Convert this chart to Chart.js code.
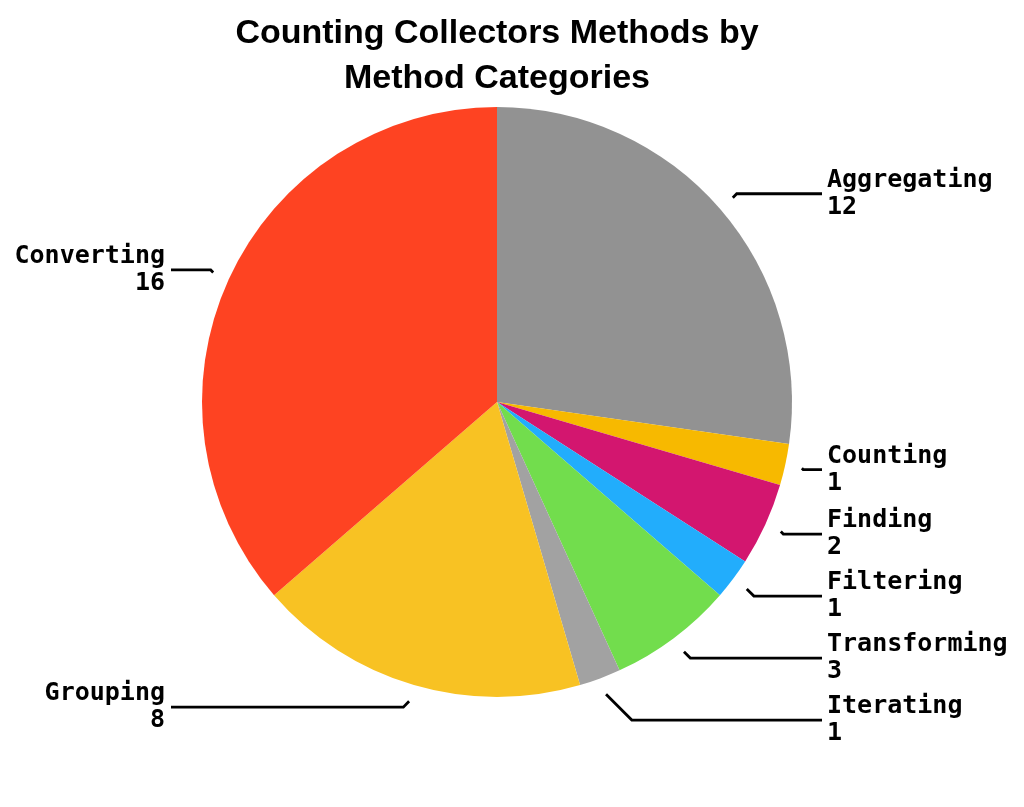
<!DOCTYPE html>
<html>
<head>
<meta charset="utf-8">
<script src="https://cdn.jsdelivr.net/npm/chart.js@4"></script>
<style>
  html, body { margin: 0; padding: 0; background: #fff; }
  canvas { display: block; }
</style>
</head>
<body>
<canvas id="c" width="1024" height="807"></canvas>
<script>
const categories = ['Aggregating', 'Counting', 'Finding', 'Filtering', 'Transforming', 'Iterating', 'Grouping', 'Converting'];
const counts = [12, 1, 2, 1, 3, 1, 8, 16];
const sliceColors = ['#929292', '#F7B900', '#D3166F', '#22ADFC', '#72DD4D', '#A2A2A2', '#F8C223', '#FE4322'];
const titleLines = ['Counting Collectors Methods by', 'Method Categories'];

const leaderLabels = {
  id: 'leaderLabels',
  afterDraw(chart) {
    const ctx = chart.ctx;
    const meta = chart.getDatasetMeta(0);
    const ds = chart.data.datasets[0];
    const items = meta.data.map((arc, i) => {
      const p = arc.getProps(['x', 'y', 'startAngle', 'endAngle', 'outerRadius'], true);
      const mid = (p.startAngle + p.endAngle) / 2;
      const cos = Math.cos(mid), sin = Math.sin(mid);
      const r0 = p.outerRadius + 17;
      const r1 = p.outerRadius + 23;
      return {
        i, cx: p.x, cy: p.y, R: p.outerRadius,
        side: cos >= 0 ? 1 : -1,
        sx: p.x + cos * r0, sy: p.y + sin * r0,
        ly: p.y + sin * r1
      };
    });
    const gap = 62;
    [1, -1].forEach(side => {
      const grp = items.filter(it => it.side === side).sort((a, b) => a.ly - b.ly);
      for (let k = 1; k < grp.length; k++) {
        if (grp[k].ly < grp[k - 1].ly + gap) grp[k].ly = grp[k - 1].ly + gap;
      }
    });
    ctx.save();
    ctx.strokeStyle = '#000';
    ctx.lineWidth = 2.8;
    ctx.fillStyle = '#000';
    ctx.font = 'bold 25px "DejaVu Sans Mono", monospace';
    ctx.textBaseline = 'alphabetic';
    items.forEach(it => {
      const endX = it.side > 0 ? it.cx + it.R + 30 : it.cx - it.R - 31;
      const dy = Math.abs(it.ly - it.sy);
      const ex = it.sx + it.side * dy;
      ctx.beginPath();
      ctx.moveTo(it.sx, it.sy);
      ctx.lineTo(ex, it.ly);
      ctx.lineTo(endX, it.ly);
      ctx.stroke();
      ctx.textAlign = it.side > 0 ? 'left' : 'right';
      const tx = it.side > 0 ? endX + 5 : endX - 6;
      ctx.fillText(chart.data.labels[it.i], tx, it.ly - 7);
      ctx.fillText(String(ds.data[it.i]), tx, it.ly + 20);
    });
    ctx.restore();
  }
};

new Chart(document.getElementById('c'), {
  type: 'pie',
  data: {
    labels: categories,
    datasets: [{
      data: counts,
      backgroundColor: sliceColors,
      borderWidth: 0
    }]
  },
  options: {
    responsive: false,
    animation: false,
    devicePixelRatio: 1,
    layout: { padding: { left: 0, right: 30, top: 0, bottom: 110 } },
    plugins: {
      legend: { display: false },
      tooltip: { enabled: false },
      title: {
        display: true,
        text: titleLines,
        color: '#000',
        font: { family: '"Liberation Sans", Arial, sans-serif', size: 34, weight: 'bold', lineHeight: 45 / 34 },
        padding: { top: 11, bottom: 6 }
      }
    }
  },
  plugins: [leaderLabels]
});
</script>
</body>
</html>
